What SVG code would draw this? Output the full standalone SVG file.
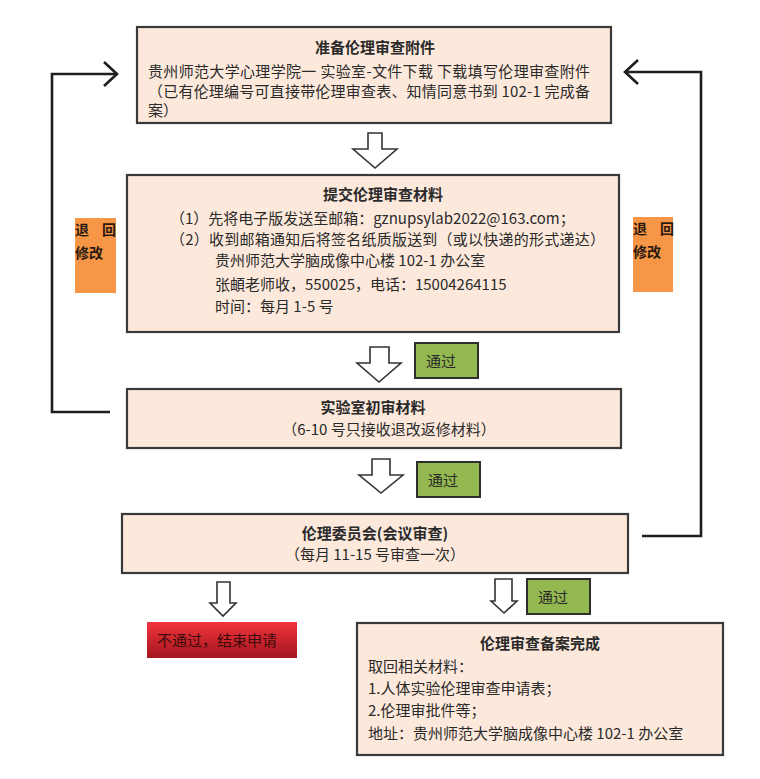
<svg xmlns="http://www.w3.org/2000/svg" width="760" height="779" viewBox="0 0 760 779">
<defs>
<style>
text{font-family:"Noto Sans CJK SC","Noto Sans",sans-serif;font-size:15px;fill:#2a2a2a;dominant-baseline:central}
.b{font-weight:bold}
.m{text-anchor:middle}
.box{fill:#fde9dc;stroke:#3a3a3a;stroke-width:2.2}
.pass{fill:#93b84f;stroke:#2e2e2e;stroke-width:2}
.org{fill:#f79646}
.ot{font-weight:bold;font-size:14px;fill:#2a1a10}
.harrow{fill:#fff;stroke:#333;stroke-width:1.6;stroke-linejoin:miter}
.conn{fill:none;stroke:#1e1e1e;stroke-width:2.6}
</style>
<linearGradient id="red" x1="0" y1="0" x2="0" y2="1">
<stop offset="0" stop-color="#f2353d"/>
<stop offset="1" stop-color="#a3151d"/>
</linearGradient>
<marker id="chev" viewBox="0 0 16 26" refX="14" refY="13" markerWidth="16" markerHeight="26" markerUnits="userSpaceOnUse" orient="auto">
<path d="M1,1 L14,13 L1,25" fill="none" stroke="#1e1e1e" stroke-width="2.6"/>
</marker>
</defs>
<rect width="760" height="779" fill="#fff"/>

<g id="connectors">
<polyline class="conn" points="110,412 52,412 52,74 117,74" marker-end="url(#chev)"/>
<polyline class="conn" points="642,536 701,536 701,72 625,72" marker-end="url(#chev)"/>
<polygon class="harrow" points="368,133 382,133 382,149 397,149 375,168 353,149 368,149"/>
<polygon class="harrow" points="370,347 389,347 389,363 401,363 379,382 357,363 370,363"/>
<polygon class="harrow" points="372,459 390,459 390,475 403,475 381,493 359,475 372,475"/>
<polygon class="harrow" points="217,582 230,582 230,603 236,603 223,616 210,603 217,603"/>
<polygon class="harrow" points="495,579 512,579 512,601 517,601 504,613 491,601 495,601"/>
</g>

<g id="return-left">
<rect class="org" x="75" y="218" width="41" height="75"/>
<text class="ot" x="75" y="229">退</text>
<text class="ot" x="102" y="229">回</text>
<text class="ot" x="75" y="252">修改</text>
</g>
<g id="return-right">
<rect class="org" x="633" y="217" width="40" height="75"/>
<text class="ot" x="633" y="228">退</text>
<text class="ot" x="660" y="228">回</text>
<text class="ot" x="633" y="251">修改</text>
</g>

<g id="prepare">
<rect class="box" x="137" y="27" width="474" height="96"/>
<text class="b m" x="375" y="46">准备伦理审查附件</text>
<text x="148" y="70" textLength="442" lengthAdjust="spacing">贵州师范大学心理学院一 实验室-文件下载  下载填写伦理审查附件</text>
<text x="148" y="90" textLength="442" lengthAdjust="spacing">（已有伦理编号可直接带伦理审查表、知情同意书到 102-1 完成备</text>
<text x="148" y="109">案）</text>
</g>

<g id="submit">
<rect class="box" x="127" y="175" width="492" height="157"/>
<text class="b m" x="383" y="193">提交伦理审查材料</text>
<text x="170" y="217">（1）先将电子版发送至邮箱：gznupsylab2022@163.com；</text>
<text x="170" y="238" textLength="435" lengthAdjust="spacing">（2）收到邮箱通知后将签名纸质版送到（或以快递的形式递达）</text>
<text x="215" y="259">贵州师范大学脑成像中心楼 102-1 办公室</text>
<text x="215" y="283">张頔老师收，550025，电话：15004264115</text>
<text x="215" y="305">时间：每月 1-5 号</text>
</g>

<g id="pass1">
<rect class="pass" x="415" y="343" width="63" height="35"/>
<text x="426" y="360">通过</text>
</g>

<g id="lab-review">
<rect class="box" x="127" y="389" width="494" height="59"/>
<text class="b m" x="373" y="406">实验室初审材料</text>
<text class="m" x="389" y="428">（6-10 号只接收退改返修材料）</text>
</g>

<g id="pass2">
<rect class="pass" x="417" y="462" width="63" height="35"/>
<text x="428" y="479">通过</text>
</g>

<g id="committee">
<rect class="box" x="122" y="514" width="506" height="59"/>
<text class="b m" x="375" y="532">伦理委员会(会议审查)</text>
<text class="m" x="375" y="553">（每月 11-15 号审查一次）</text>
</g>

<g id="pass3">
<rect class="pass" x="527" y="579" width="63" height="35"/>
<text x="538" y="596">通过</text>
</g>

<g id="reject">
<rect x="147" y="622" width="150" height="36" fill="url(#red)"/>
<text x="157" y="639" style="fill:#3a0b0b">不通过，结束申请</text>
</g>

<g id="complete">
<rect class="box" x="357" y="623" width="366" height="132"/>
<text class="b m" x="540" y="642">伦理审查备案完成</text>
<text x="368" y="665">取回相关材料：</text>
<text x="368" y="687">1.人体实验伦理审查申请表；</text>
<text x="368" y="709">2.伦理审批件等；</text>
<text x="368" y="732">地址：贵州师范大学脑成像中心楼 102-1 办公室</text>
</g>
</svg>
